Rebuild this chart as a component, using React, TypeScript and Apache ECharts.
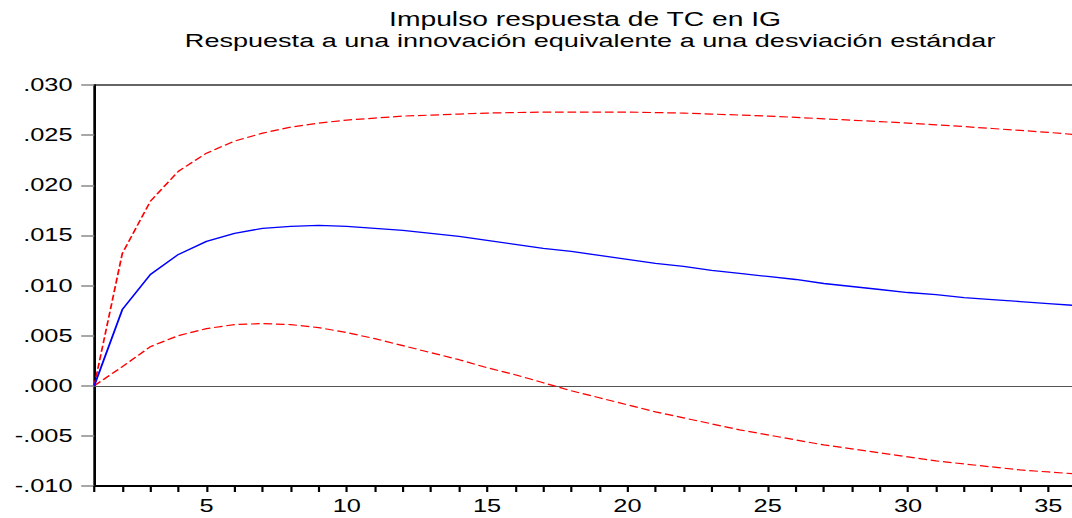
import React, { useEffect, useRef } from "react";
import * as echarts from "echarts";

const periods: number[] = Array.from({ length: 36 }, (_, i) => i + 1);

const response: number[] = [
  0, 0.0076, 0.0111, 0.0131, 0.0144, 0.0152, 0.0157, 0.0159, 0.016, 0.0159,
  0.0157, 0.0155, 0.0152, 0.0149, 0.0145, 0.0141, 0.0137, 0.0134, 0.013, 0.0126,
  0.0122, 0.0119, 0.0115, 0.0112, 0.0109, 0.0106, 0.0102, 0.0099, 0.0096, 0.0093,
  0.0091, 0.0088, 0.0086, 0.0084, 0.0082, 0.008,
];

const upperBand: number[] = [
  0, 0.0132, 0.0184, 0.0214, 0.0232, 0.0244, 0.0252, 0.0258, 0.0262, 0.0265,
  0.0267, 0.0269, 0.027, 0.0271, 0.0272, 0.02725, 0.0273, 0.0273, 0.0273, 0.0273,
  0.02725, 0.0272, 0.0271, 0.027, 0.0269, 0.02677, 0.02663, 0.02649, 0.02635, 0.0262,
  0.02603, 0.02585, 0.02566, 0.02547, 0.02527, 0.02505,
];

const lowerBand: number[] = [
  0, 0.0019, 0.0039, 0.005, 0.0057, 0.0061, 0.0062, 0.0061, 0.0058, 0.0053,
  0.0047, 0.004, 0.0033, 0.0026, 0.0018, 0.0011, 0.0003, -0.0005, -0.0012, -0.0019,
  -0.0026, -0.0032, -0.0038, -0.0044, -0.0049, -0.0054, -0.0059, -0.0063, -0.0067, -0.0071,
  -0.0075, -0.0078, -0.0081, -0.0084, -0.0086, -0.0088,
];

const titleMain = "Impulso respuesta de TC en IG";
const titleSub = "Respuesta a una innovación equivalente a una desviación estándar";

const yMin = -0.01;
const yMax = 0.03;
const yStep = 0.005;
const xMin = 1;
const xMax = 36;
const xLabelEvery = 5;

const STRETCH = 1.45;
const FONT = "'Liberation Sans', Arial, sans-serif";

function fmtY(v: number): string {
  const s = v.toFixed(3);
  return s.replace(/^(-?)0\./, "$1.");
}

export default function App() {
  const ref = useRef<HTMLDivElement>(null);

  useEffect(() => {
    if (!ref.current) return;
    const chart = echarts.init(ref.current, null, { renderer: "svg" });
    const pair = (arr: number[]) => periods.map((p, i) => [p, arr[i]]);
    const titleStyle = (size: number) => ({
      fontFamily: FONT,
      fontSize: size,
      fontWeight: "normal",
      color: "#000000",
    });
    chart.setOption({
      animation: false,
      backgroundColor: "#ffffff",
      title: [
        {
          text: titleMain,
          left: 403.5,
          top: 9,
          textAlign: "center",
          padding: 0,
          textStyle: titleStyle(19.5),
        },
        {
          text: titleSub,
          left: 407,
          top: 31,
          textAlign: "center",
          padding: 0,
          textStyle: titleStyle(18.66),
        },
      ],
      grid: {
        left: 65,
        top: 85,
        width: 677.3,
        height: 401,
        show: true,
        borderColor: "#333333",
        borderWidth: 1.5,
        backgroundColor: "transparent",
      },
      xAxis: {
        type: "value",
        min: xMin,
        max: xMax,
        interval: 1,
        axisLine: { show: true, onZero: false, lineStyle: { color: "#000000", width: 2 } },
        axisTick: { show: true, inside: false, length: 6, lineStyle: { color: "#000000", width: 1.5 } },
        axisLabel: {
          show: true,
          margin: 11,
          fontFamily: FONT,
          fontSize: 17.5,
          color: "#000000",
          formatter: (v: number) => (Math.round(v) % xLabelEvery === 0 ? String(Math.round(v)) : ""),
        },
        splitLine: { show: false },
      },
      yAxis: {
        type: "value",
        min: yMin,
        max: yMax,
        interval: yStep,
        axisLine: { show: true, onZero: false, lineStyle: { color: "#000000", width: 1.4 } },
        axisTick: { show: true, inside: false, length: 9, lineStyle: { color: "#8a8a8a", width: 1.5 } },
        axisLabel: {
          show: true,
          margin: 15,
          fontFamily: FONT,
          fontSize: 17.5,
          color: "#000000",
          formatter: (v: number) => fmtY(v),
        },
        splitLine: { show: false },
      },
      series: [
        {
          name: "Respuesta",
          type: "line",
          data: pair(response),
          showSymbol: false,
          symbol: "none",
          lineStyle: { color: "#0000ff", width: 1.3, type: "solid" },
          z: 3,
          markLine: {
            silent: true,
            symbol: ["none", "none"],
            label: { show: false },
            lineStyle: { color: "#555555", width: 1.2, type: "solid" },
            data: [{ yAxis: 0 }],
            z: 1,
          },
        },
        {
          name: "Banda superior",
          type: "line",
          data: pair(upperBand),
          showSymbol: false,
          symbol: "none",
          lineStyle: { color: "#ff0000", width: 1.2, type: [6, 2.6] },
          z: 2,
        },
        {
          name: "Banda inferior",
          type: "line",
          data: pair(lowerBand),
          showSymbol: false,
          symbol: "none",
          lineStyle: { color: "#ff0000", width: 1.2, type: [6, 2.6] },
          z: 2,
        },
      ],
    });
    return () => {
      chart.dispose();
    };
  }, []);

  return (
    <div
      style={{
        position: "fixed",
        left: 0,
        top: 0,
        width: 1072,
        height: 518,
        overflow: "hidden",
        background: "#ffffff",
      }}
    >
      <div
        ref={ref}
        style={{
          width: 746,
          height: 518,
          transform: `scaleX(${STRETCH})`,
          transformOrigin: "0 0",
        }}
      />
    </div>
  );
}
